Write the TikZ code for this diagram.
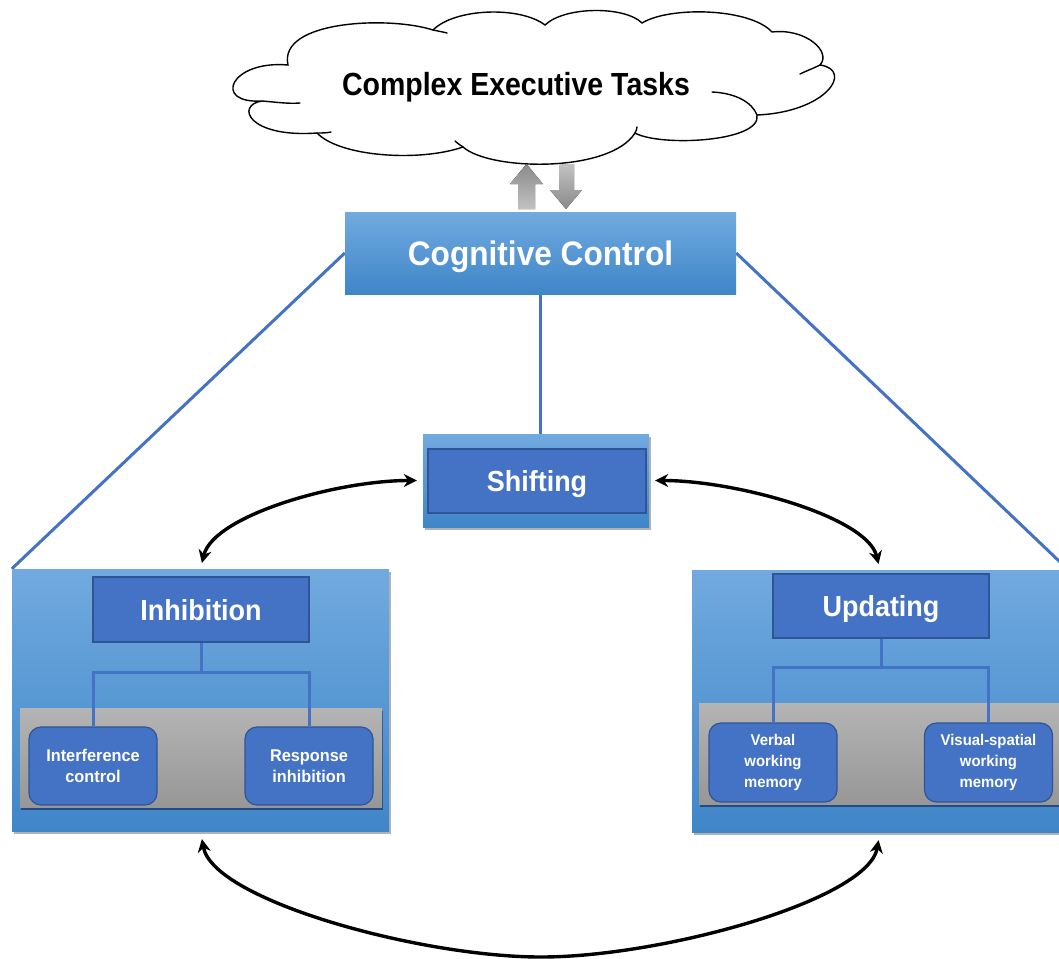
\documentclass[tikz,border=0pt]{standalone}
\usepackage{fontspec}
\setmainfont{Liberation Sans}
\newfontfamily\cloudfont{Liberation Sans}[FakeStretch=0.89]
\newfontfamily\headfont{Liberation Sans}[FakeStretch=0.93]
\newfontfamily\leaffont{Liberation Sans}[FakeStretch=0.96]
\usetikzlibrary{shadows,arrows.meta}

\definecolor{panelTop}{HTML}{71AADF}
\definecolor{panelBot}{HTML}{3F86C8}
\definecolor{boxBlue}{HTML}{4472C4}
\definecolor{boxEdge}{HTML}{2F5597}
\definecolor{lineBlue}{HTML}{4472C4}
\definecolor{bandTop}{HTML}{B4B4B4}
\definecolor{bandBot}{HTML}{979797}
\definecolor{arrowLight}{HTML}{C2C2C2}
\definecolor{arrowDark}{HTML}{8A8A8A}

\pgfdeclarelayer{background}
\pgfsetlayers{background,main}

\tikzset{
  panel/.style={rectangle, inner sep=0pt, draw=none,
    top color=panelTop, bottom color=panelBot,
    drop shadow={shadow xshift=2pt, shadow yshift=-3pt, opacity=0.3, fill=black}},
  band/.style={rectangle, inner sep=0pt, draw=none,
    top color=bandTop, bottom color=bandBot,
    drop shadow={shadow xshift=1pt, shadow yshift=-3pt, opacity=0.45, fill=black!80!blue}},
  headbox/.style={rectangle, inner sep=0pt, fill=boxBlue, draw=boxEdge,
    line width=1.2pt, text=white, font=\headfont\bfseries\fontsize{29}{34}\selectfont,
    text height=21pt, text depth=0pt},
  leaf/.style={rectangle, rounded corners=12pt, inner sep=0pt, fill=boxBlue,
    draw=boxEdge, line width=1.2pt, text=white, align=center,
    minimum width=128pt},
  leafbig/.style={leaf, minimum height=78pt,
    font=\leaffont\bfseries\fontsize{17}{21}\selectfont},
  leafsmall/.style={leaf, minimum height=79pt,
    font=\leaffont\bfseries\fontsize{15.5}{21}\selectfont},
  link/.style={draw=lineBlue, line width=3pt},
  tree/.style={draw=lineBlue, line width=3pt},
  swap/.style={line width=3.4pt, black,
    {Stealth[length=13pt,width=13pt]}-{Stealth[length=13pt,width=13pt]}},
  cloudline/.style={draw=black, line width=1.4pt, line cap=round},
}

\begin{document}
\begin{tikzpicture}[x=1pt, y=-1pt]
  \useasboundingbox (0,0) rectangle (1059,958);
  \clip (0,0) rectangle (1059,958);

  % cloud outline, lump by lump, clockwise from the upper left
  \path[cloudline, fill=white]
    (288,65) .. controls (230,60) and (212,104) .. (262,101)
    .. controls (235,105) and (248,138) .. (317,133)
    .. controls (340,157) and (420,162) .. (463,147)
    .. controls (490,171) and (610,173) .. (635,133)
    .. controls (660,147) and (762,142) .. (757,115)
    .. controls (827,112) and (854,70) .. (820,65)
    .. controls (832,52) and (806,28) .. (772,32)
    .. controls (750,8) and (670,6) .. (642,23)
    .. controls (625,6) and (565,6) .. (545,25)
    .. controls (520,6) and (455,8) .. (433,30)
    .. controls (390,16) and (278,20) .. (288,65) -- cycle;
  % short inner strokes where the lumps overlap
  \draw[cloudline] (262,101) .. controls (275,102) and (288,104) .. (300,103);
  \draw[cloudline] (317,133) .. controls (322,133) and (327,133) .. (331,132);
  \draw[cloudline] (463,147) .. controls (460,145) and (457,143) .. (455,141);
  \draw[cloudline] (757,115) .. controls (752,102) and (735,93) .. (712,92);
  \draw[cloudline] (820,65) .. controls (812,69) and (806,71) .. (800,74);
  \draw[cloudline] (433,30) .. controls (438,31) and (443,32) .. (447,33);
  \draw[cloudline] (635,133) .. controls (636,131) and (637,129) .. (637,127);

  \node[font=\cloudfont\bfseries\fontsize{32}{38}\selectfont, anchor=base,
        inner sep=0pt] (tasksText) at (516,95) {Complex Executive Tasks};

  % two-way exchange between the cloud and cognitive control
  \fill[top color=arrowDark, bottom color=arrowLight]
    (518,209) -- (518,184) -- (510,184) -- (526.5,164) -- (543,184)
    -- (535,184) -- (535,209) -- cycle;
  \fill[top color=arrowLight, bottom color=arrowDark]
    (559,164) -- (559,190) -- (550,190) -- (566,209) -- (582,190)
    -- (574,190) -- (574,164) -- cycle;

  % cognitive control
  \node[rectangle, inner sep=0pt, draw=none, top color=panelTop, bottom color=panelBot,
        minimum width=391pt, minimum height=82pt, text=white,
        font=\headfont\bfseries\fontsize{34}{40}\selectfont,
        text height=24.3pt, text depth=0pt]
        (ccBox) at (540.5,253) {Cognitive Control};

  % shifting
  \node[panel, minimum width=226pt, minimum height=93pt] (shiftOuter) at (536,480.5) {};
  \node[headbox, minimum width=218pt, minimum height=64pt] (shiftBox) at (537,481) {Shifting};

  % inhibition panel
  \node[panel, minimum width=377pt, minimum height=262pt] (inhibPanel) at (200.5,700) {};
  \node[band, minimum width=362pt, minimum height=99pt] (inhibBand) at (201,757.5) {};
  \node[headbox, minimum width=216pt, minimum height=65pt] (inhibBox) at (201,609.5) {Inhibition};
  \draw[tree] (inhibBox.south) -- ++(0,30) coordinate (inhibFork);
  \node[leafbig] (interfBox) at (93,766) {Interference\\control};
  \node[leafbig] (respBox) at (309,766) {Response\\inhibition};
  \draw[tree] (inhibFork) -| (interfBox.north);
  \draw[tree] (inhibFork) -| (respBox.north);

  % updating panel
  \node[panel, minimum width=376pt, minimum height=262pt] (updPanel) at (880,701) {};
  \node[band, minimum width=362pt, minimum height=101pt] (updBand) at (880,753.5) {};
  \node[headbox, minimum width=216pt, minimum height=64pt] (updBox) at (881,606) {Updating};
  \draw[tree] (updBox.south) -- ++(0,29) coordinate (updFork);
  \node[leafsmall] (verbBox) at (773,762.5) {Verbal\\working\\memory};
  \node[leafsmall] (visBox) at (988.5,762.5) {Visual-spatial\\working\\memory};
  \draw[tree] (updFork) -| (verbBox.north);
  \draw[tree] (updFork) -| (visBox.north);

  % links from cognitive control, kept behind the boxes
  \begin{pgfonlayer}{background}
    \draw[link] (ccBox.west) -- (inhibPanel.north west);
    \draw[link] (ccBox.east) -- (updPanel.north east);
    \draw[link] (ccBox.south) -- (ccBox.south |- shiftOuter.north);
  \end{pgfonlayer}

  % interactions between the three functions
  \draw[swap, shorten <=6pt, shorten >=6pt]
    (inhibPanel.north) .. controls +(13,-53) and +(-87,0) .. (shiftOuter.west);
  \draw[swap, shorten <=6pt, shorten >=6pt]
    (shiftOuter.east) .. controls +(87,0) and +(-13,-53) .. (updPanel.north);
  \coordinate (loopLow) at (541,957);
  \draw[swap, shorten <=8pt, shorten >=8pt]
    (inhibPanel.south) .. controls +(12.5,69) and +(-121,0) .. (loopLow)
    .. controls +(121,0) and +(-12,68) .. (updPanel.south);
\end{tikzpicture}
\end{document}
